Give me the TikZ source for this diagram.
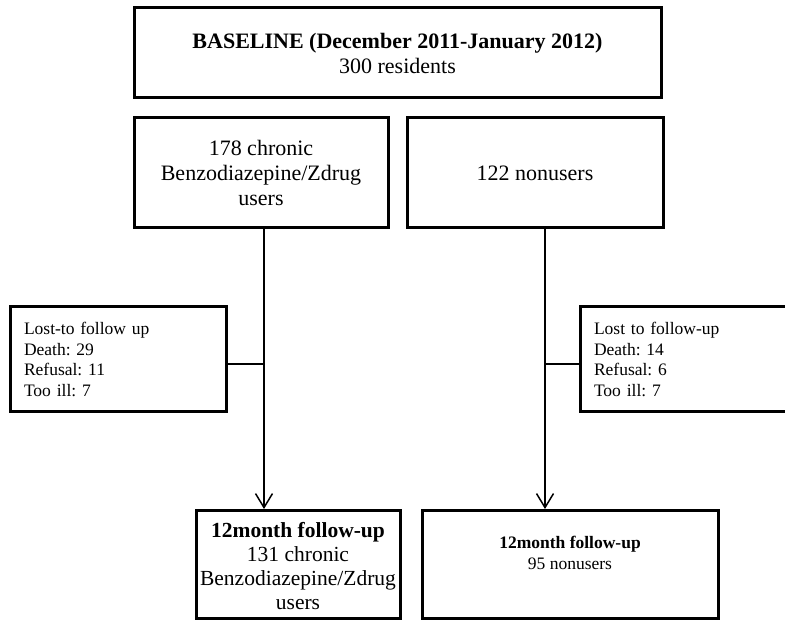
\documentclass[tikz,border=0pt]{standalone}
\usepackage{fontspec}
\setmainfont{Liberation Serif}
\usetikzlibrary{arrows.meta}
\frenchspacing
\begin{document}
\begin{tikzpicture}[x=1pt,y=-1pt,
  box/.style={draw,line width=3pt,inner sep=0pt,align=center,
    font=\fontsize{22}{25}\selectfont},
  frame/.style={draw,line width=3pt,inner sep=0pt},
  bigtext/.style={inner sep=0pt,align=center,font=\fontsize{21.5}{24.3}\selectfont},
  smalltext/.style={inner sep=0pt,align=center,font=\fontsize{17.5}{21}\selectfont},
  lostbox/.style={draw,line width=3pt,inner xsep=14pt,inner ysep=0pt,align=left,
    font=\fontsize{17.5}{20.5}\selectfont},
  conn/.style={line width=1.5pt},
  arr/.style={line width=1.5pt,-{Straight Barb[length=14pt,width=17pt,line width=1.5pt]}}]
\useasboundingbox (0,0) rectangle (785,620);
\node[box,minimum width=527pt,minimum height=90pt] (base) at (397.5,53)
  {\textbf{BASELINE (December 2011-January 2012)}\\300 residents};
\node[box,minimum width=254pt,minimum height=110pt] (users) at (261,173)
  {178 chronic\\Benzodiazepine/Zdrug\\users};
\node[box,minimum width=256pt,minimum height=110pt] (non) at (535,173)
  {122 nonusers};
\node[lostbox,text width=188pt,minimum height=105pt] (lostL) at (118,359.5)
  {Lost-to follow up\\Death: 29\\Refusal: 11\\Too ill: 7};
\node[lostbox,text width=202pt,minimum height=105pt] (lostR) at (695,359.5)
  {Lost to follow-up\\Death: 14\\Refusal: 6\\Too ill: 7};
\node[frame,minimum width=204pt,minimum height=108pt] (fuL) at (298,564.5) {};
\node[bigtext] (fuLt) at (298,566)
  {\textbf{12month follow-up}\\131 chronic\\Benzodiazepine/Zdrug\\users};
\node[frame,minimum width=296pt,minimum height=108pt] (fuR) at (570,564.5) {};
\node[smalltext] (fuRt) at (570,553)
  {\textbf{12month follow-up}\\95 nonusers};
\coordinate (jl) at (264,364);
\coordinate (jr) at (545,364);
\draw[conn] (users.south -| jl) -- (jl);
\draw[arr] (jl) -- (fuL.north -| jl);
\draw[conn] (lostL.east |- jl) -- (jl);
\draw[conn] (non.south -| jr) -- (jr);
\draw[arr] (jr) -- (fuR.north -| jr);
\draw[conn] (jr) -- (lostR.west |- jr);
\end{tikzpicture}
\end{document}
